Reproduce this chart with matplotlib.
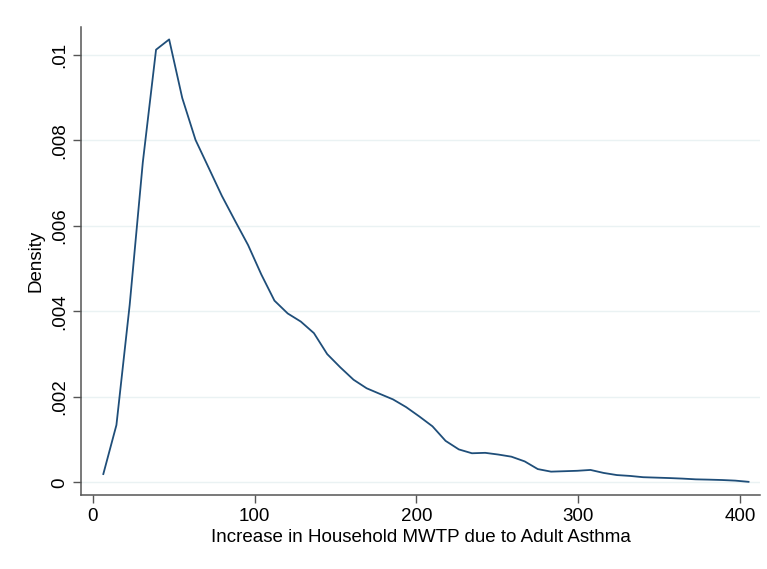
import numpy as np
import matplotlib
matplotlib.use("Agg")
import matplotlib.pyplot as plt

# kernel density estimate at its 50 evaluation points
mwtp = [6.4, 14.5, 22.7, 30.8, 39.0, 47.1, 55.2, 63.4, 71.5, 79.7,
        87.8, 95.9, 104.1, 112.2, 120.4, 128.5, 136.6, 144.8, 152.9, 161.1,
        169.2, 177.3, 185.5, 193.6, 201.8, 209.9, 218.0, 226.2, 234.3, 242.5,
        250.6, 258.7, 266.9, 275.0, 283.2, 291.3, 299.4, 307.6, 315.7, 323.9,
        332.0, 340.1, 348.3, 356.4, 364.6, 372.7, 380.8, 389.0, 397.1, 405.3]
density = [0.000194, 0.00134, 0.00415, 0.00748, 0.01012, 0.01036, 0.00899, 0.00801, 0.00736, 0.00670,
           0.00612, 0.00555, 0.00486, 0.00425, 0.00395, 0.00376, 0.00349, 0.00300, 0.00269, 0.00240,
           0.00220, 0.00207, 0.00194, 0.00176, 0.00154, 0.00131, 0.00097, 0.00077, 0.00068, 0.00069,
           0.00065, 0.00060, 0.00049, 0.00031, 0.00025, 0.00026, 0.00027, 0.00029, 0.00022, 0.00017,
           0.00015, 0.00012, 0.00011, 0.00010, 0.000087, 0.00007, 0.000063, 0.000054, 0.00004, 0.000012]

xticks = [0, 100, 200, 300, 400]
yticks = [0, 0.002, 0.004, 0.006, 0.008, 0.01]
ytick_labels = ["0", ".002", ".004", ".006", ".008", ".01"]

plt.rcParams['font.family'] = ['Liberation Sans', 'DejaVu Sans']

fig = plt.figure(figsize=(7.67, 5.69), dpi=100)
ax = fig.add_axes([0.1056, 0.130, 0.8853, 0.8225])

ax.plot(mwtp, density, color='#1f4e79', linewidth=1.3, zorder=3)

ax.set_xlim(-7.4, 412.4)
ax.set_ylim(-0.000297, 0.01065)
ax.set_xticks(xticks)
ax.set_yticks(yticks)
ax.set_yticklabels(ytick_labels, rotation=90, va='center')

ax.grid(axis='y', color='#eaf2f3', linewidth=1.0, zorder=0)
ax.set_axisbelow(True)

for side in ['top', 'right']:
    ax.spines[side].set_visible(False)
for side in ['left', 'bottom']:
    ax.spines[side].set_color('#555555')
    ax.spines[side].set_linewidth(1.1)

ax.tick_params(axis='both', direction='out', length=6, width=1.0,
               color='#555555', labelsize=13.5, labelcolor='black')
ax.tick_params(axis='y', pad=3)
ax.tick_params(axis='x', pad=3)

ax.set_xlabel('Increase in Household MWTP due to Adult Asthma', fontsize=13.5, labelpad=3)
ax.set_ylabel('Density', fontsize=13.5, labelpad=5)

fig.savefig('out.png', dpi=100)
